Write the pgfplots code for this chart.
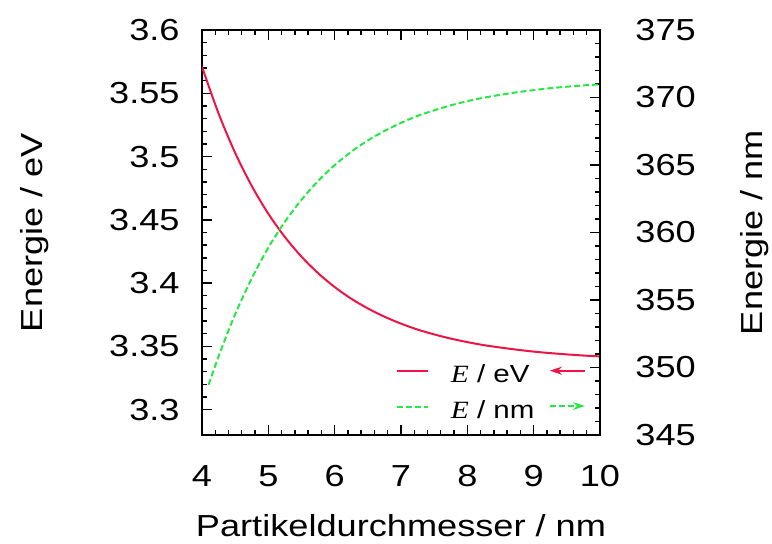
\documentclass[border=0pt]{standalone}
\usepackage{fontspec}
\setmainfont{Liberation Sans}[FakeStretch=1.19]
\newfontfamily\tnr{Liberation Serif}[FakeStretch=1.19]
\usepackage{pgfplots}
\usepackage{pgfplotstable}
\pgfplotsset{compat=1.18}
\usetikzlibrary{arrows.meta}
\definecolor{cred}{RGB}{238,20,70}
\definecolor{cgreen}{RGB}{40,230,70}

\pgfplotstableread{
d E
4.0 3.5710
4.25 3.5340
4.5 3.5029
4.75 3.4768
5.0 3.4548
5.25 3.4364
5.5 3.4209
5.75 3.4079
6.0 3.3969
6.25 3.3877
6.5 3.3800
6.75 3.3735
7.0 3.3680
7.25 3.3633
7.5 3.3595
7.75 3.3562
8.0 3.3534
8.25 3.3510
8.5 3.3491
8.75 3.3474
9.0 3.3459
9.25 3.3447
9.5 3.3437
9.75 3.3428
10.0 3.3421
}\redtab

\pgfplotstableread{
d L
4.1 348.72
4.25 350.83
4.5 353.95
4.75 356.60
5.0 358.88
5.25 360.80
5.5 362.43
5.75 363.81
6.0 364.99
6.25 365.98
6.5 366.82
6.75 367.52
7.0 368.12
7.25 368.64
7.5 369.05
7.75 369.42
8.0 369.73
8.25 369.99
8.5 370.20
8.75 370.39
9.0 370.55
9.25 370.69
9.5 370.80
9.75 370.90
10.0 370.97
}\greentab

\begin{document}
\fontsize{15.2}{18.5}\selectfont
\begin{tikzpicture}
\pgfplotsset{
  common/.style={
    width=199pt, height=202.5pt, scale only axis,
    xmin=4, xmax=10,
    /pgf/number format/assume math mode=true,
    tick style={black, line width=0.7pt},
    major tick length=5pt, minor tick length=2.5pt,
    axis line style={line width=0.8pt},
  }
}
\begin{axis}[common, name=ax,
  ymin=3.28, ymax=3.6,
  ytick={3.3,3.35,3.4,3.45,3.5,3.55,3.6},
  minor y tick num=4,
  xtick={4,5,6,7,8,9,10}, minor x tick num=4,
  ytick pos=left, xtick pos=both, tick align=inside,
  yticklabel style={anchor=east, inner sep=0pt, xshift=-11pt},
  xticklabel style={anchor=north, inner sep=0pt, yshift=-15pt},
  xlabel={Partikeldurchmesser / nm},
  ylabel={Energie / eV},
  xlabel style={at={(rel axis cs:0.5,-0.251)}, anchor=base},
  ylabel style={at={(rel axis cs:-0.402,0.5)}, anchor=base},
]
\addplot[cred, line width=1pt, smooth] table[x=d, y=E]{\redtab};
\end{axis}

\begin{axis}[common,
  ymin=345, ymax=375,
  axis y line*=right, axis x line=none,
  ytick={345,350,355,360,365,370,375},
  minor y tick num=4,
  tick align=inside, ytick align=inside,
  yticklabel style={anchor=west, inner sep=0pt, xshift=17.5pt},
  ylabel={Energie / nm},
  ylabel style={at={(rel axis cs:1.4095,0.5)}, anchor=base},
  legend style={draw=none, fill=none, inner sep=0pt, outer sep=0pt,
    at={(rel axis cs:0.487,0.1746)}, anchor=north west,
    row sep=6.5pt, column sep=11pt,
    font=\fontsize{12.4}{14}\selectfont,
    nodes={inner sep=0pt, text height=9pt, text depth=2.5pt}},
  legend cell align=left,
  legend image code/.code={\draw[#1] (0pt,2.55pt) -- (15.5pt,2.55pt);},
]
\addlegendimage{cred, line width=1pt}
\addlegendentry{{\tnr\itshape E} / eV}
\addplot[cgreen, line width=1pt, dash pattern=on 3pt off 1.5pt, smooth] table[x=d, y=L]{\greentab};
\addlegendentry{{\tnr\itshape E} / nm}
\draw[cred, line width=1pt, -{Stealth[length=6pt,width=4pt]}] (rel axis cs:0.9616,0.1588) -- (rel axis cs:0.874,0.1588);
\draw[cgreen, line width=1pt, dash pattern=on 3pt off 1.5pt, -{Stealth[length=6pt,width=4pt]}] (rel axis cs:0.874,0.0716) -- (rel axis cs:0.962,0.0716);
\end{axis}

\pgfresetboundingbox
\path ([shift={(-101pt,-54pt)}]ax.south west) rectangle ([shift={(86pt,15pt)}]ax.north east);
\end{tikzpicture}
\end{document}
